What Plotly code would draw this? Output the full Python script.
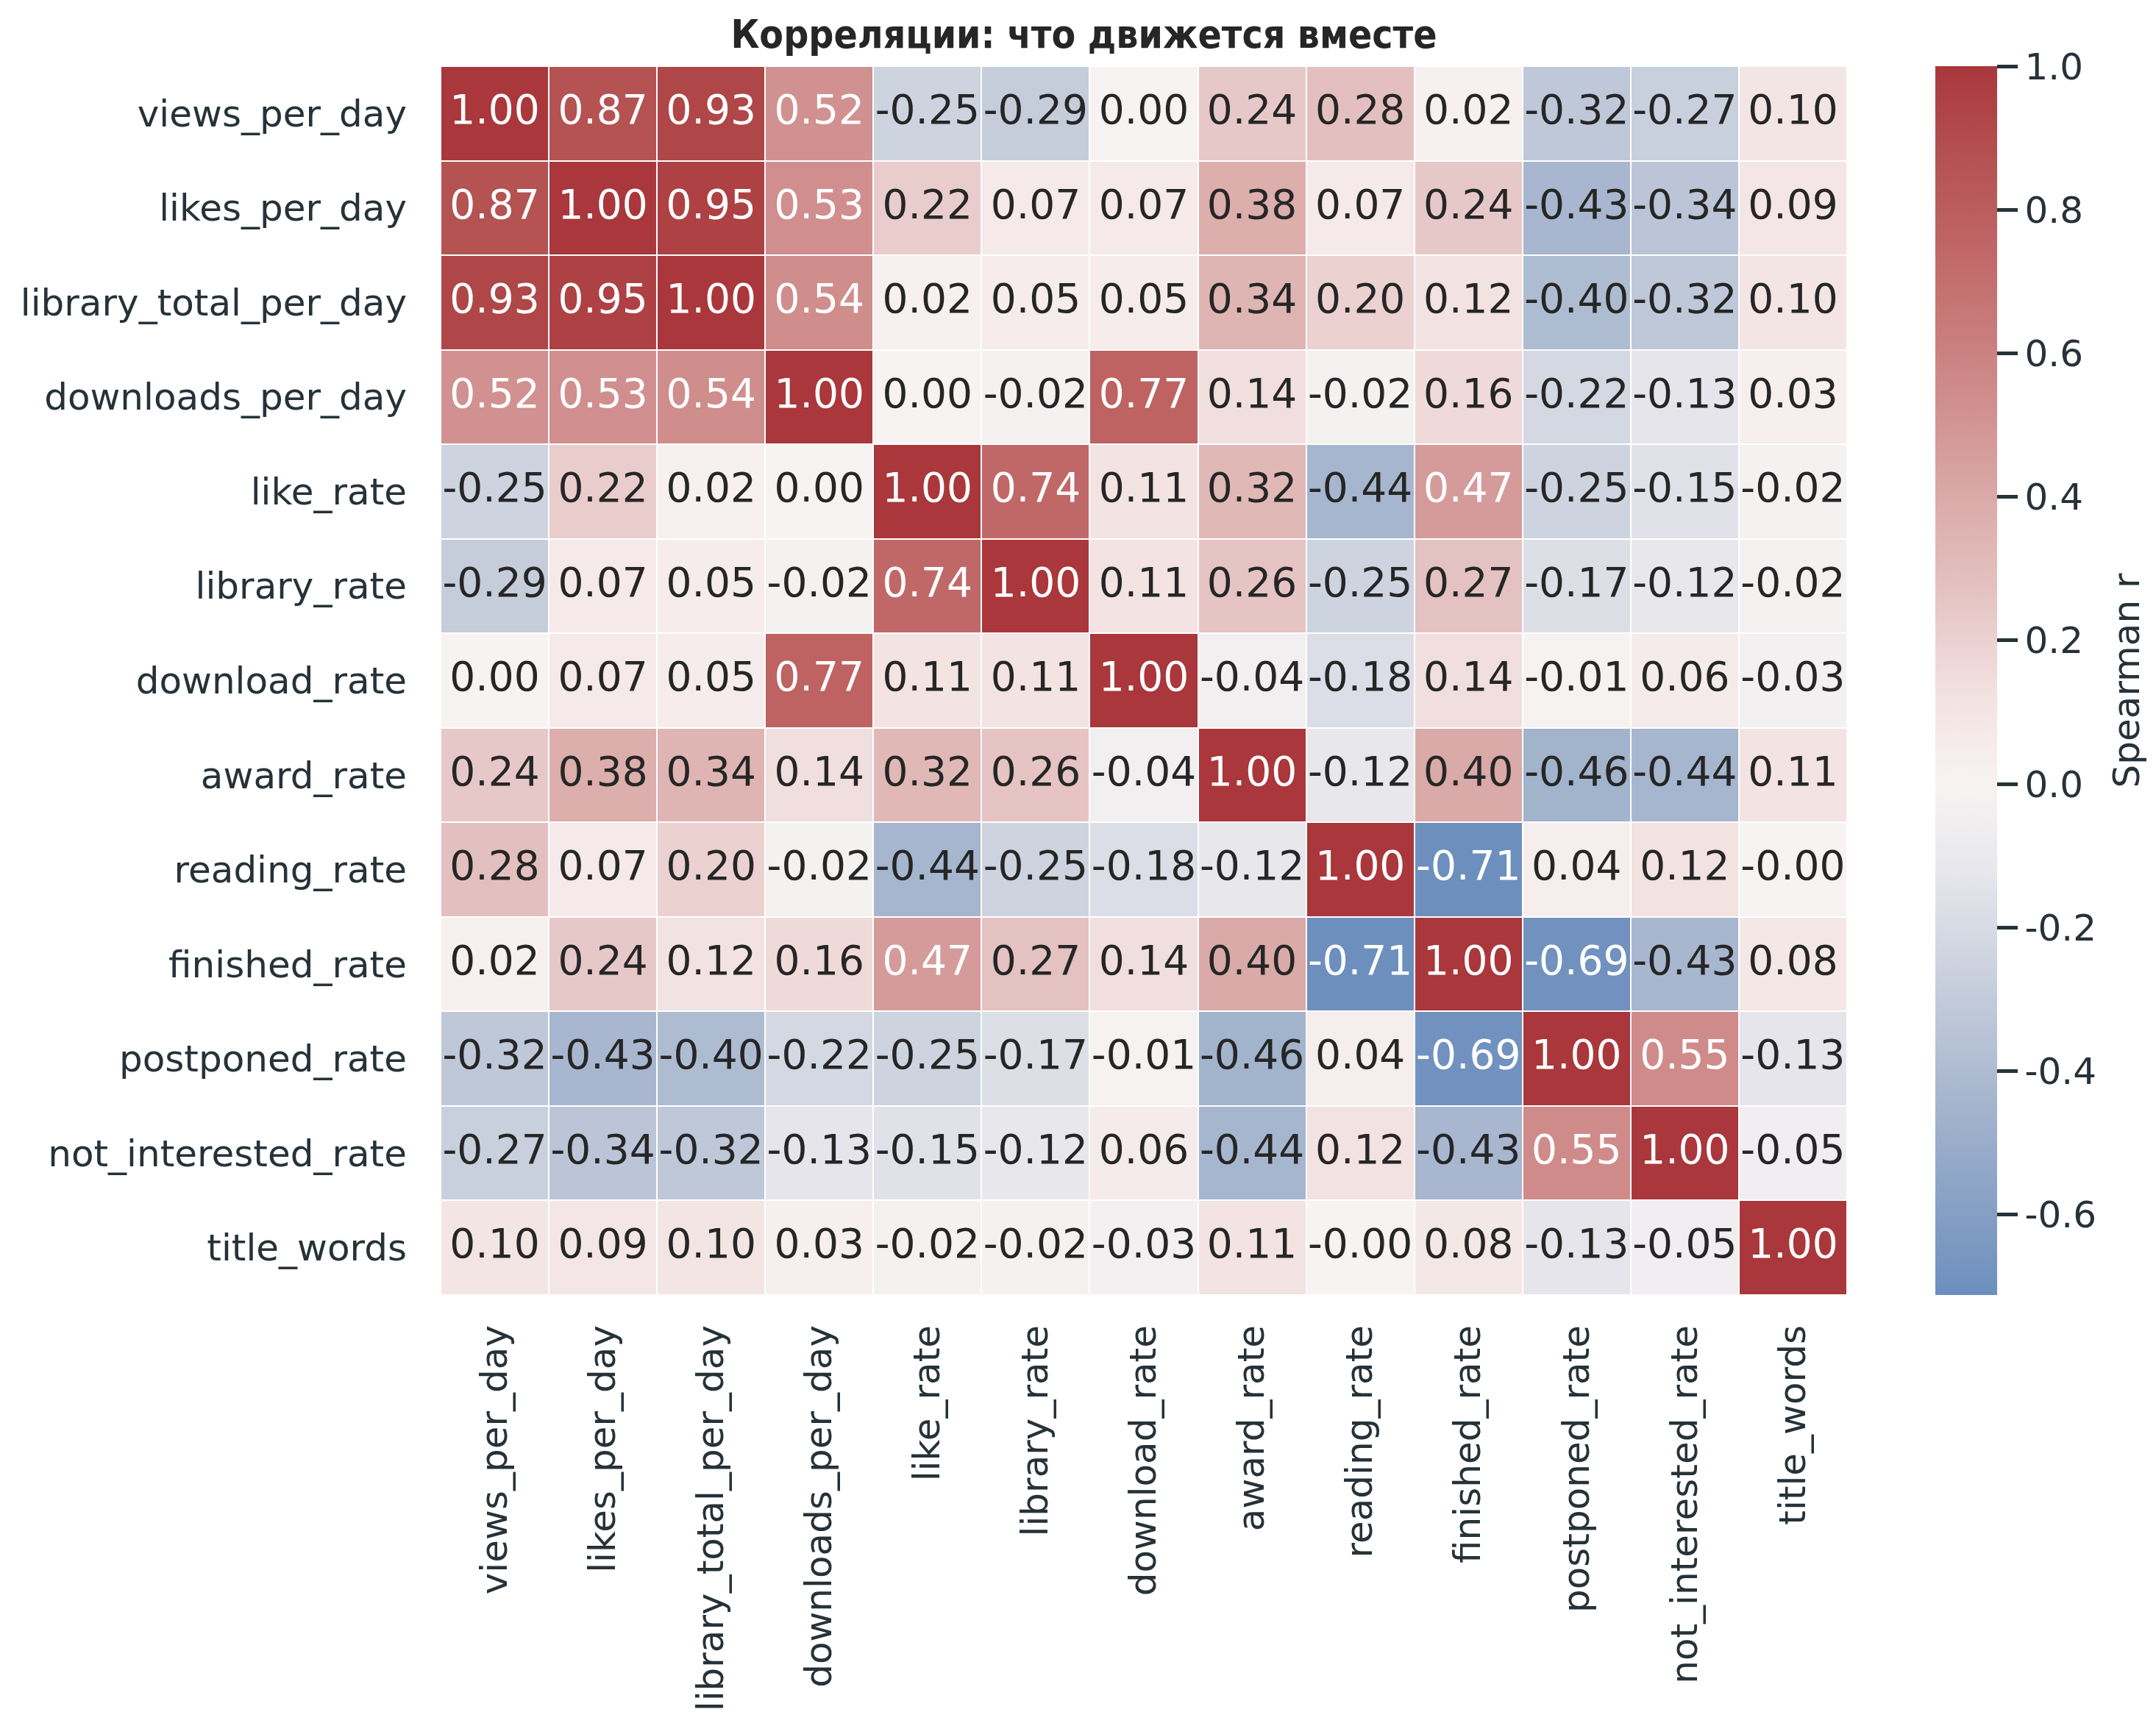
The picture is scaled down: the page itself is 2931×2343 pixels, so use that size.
import plotly.graph_objects as go

# ---------------- data ----------------
labels = ["views_per_day", "likes_per_day", "library_total_per_day", "downloads_per_day",
          "like_rate", "library_rate", "download_rate", "award_rate", "reading_rate",
          "finished_rate", "postponed_rate", "not_interested_rate", "title_words"]

row_views_per_day         = [1.00, 0.87, 0.93, 0.52, -0.25, -0.29, 0.00, 0.24, 0.28, 0.02, -0.32, -0.27, 0.10]
row_likes_per_day         = [0.87, 1.00, 0.95, 0.53, 0.22, 0.07, 0.07, 0.38, 0.07, 0.24, -0.43, -0.34, 0.09]
row_library_total_per_day = [0.93, 0.95, 1.00, 0.54, 0.02, 0.05, 0.05, 0.34, 0.20, 0.12, -0.40, -0.32, 0.10]
row_downloads_per_day     = [0.52, 0.53, 0.54, 1.00, 0.00, -0.02, 0.77, 0.14, -0.02, 0.16, -0.22, -0.13, 0.03]
row_like_rate             = [-0.25, 0.22, 0.02, 0.00, 1.00, 0.74, 0.11, 0.32, -0.44, 0.47, -0.25, -0.15, -0.02]
row_library_rate          = [-0.29, 0.07, 0.05, -0.02, 0.74, 1.00, 0.11, 0.26, -0.25, 0.27, -0.17, -0.12, -0.02]
row_download_rate         = [0.00, 0.07, 0.05, 0.77, 0.11, 0.11, 1.00, -0.04, -0.18, 0.14, -0.01, 0.06, -0.03]
row_award_rate            = [0.24, 0.38, 0.34, 0.14, 0.32, 0.26, -0.04, 1.00, -0.12, 0.40, -0.46, -0.44, 0.11]
row_reading_rate          = [0.28, 0.07, 0.20, -0.02, -0.44, -0.25, -0.18, -0.12, 1.00, -0.71, 0.04, 0.12, -0.004]
row_finished_rate         = [0.02, 0.24, 0.12, 0.16, 0.47, 0.27, 0.14, 0.40, -0.71, 1.00, -0.69, -0.43, 0.08]
row_postponed_rate        = [-0.32, -0.43, -0.40, -0.22, -0.25, -0.17, -0.01, -0.46, 0.04, -0.69, 1.00, 0.55, -0.13]
row_not_interested_rate   = [-0.27, -0.34, -0.32, -0.13, -0.15, -0.12, 0.06, -0.44, 0.12, -0.43, 0.55, 1.00, -0.05]
row_title_words           = [0.10, 0.09, 0.10, 0.03, -0.02, -0.02, -0.03, 0.11, -0.004, 0.08, -0.13, -0.05, 1.00]

z = [row_views_per_day, row_likes_per_day, row_library_total_per_day, row_downloads_per_day,
     row_like_rate, row_library_rate, row_download_rate, row_award_rate, row_reading_rate,
     row_finished_rate, row_postponed_rate, row_not_interested_rate, row_title_words]

cbar_ticks = [-0.6, -0.4, -0.2, 0.0, 0.2, 0.4, 0.6, 0.8, 1.0]
cbar_ticktext = ["-0.6", "-0.4", "-0.2", "0.0", "0.2", "0.4", "0.6", "0.8", "1.0"]

title_text = "Корреляции: что движется вместе"
cbar_title = "Spearman r"

# ---------------- style: vlag-like diverging map centred at 0 (value space) ----------------
VLAG = [(-1.00, "#2369bd"), (-0.71, "#6d8fbe"), (-0.45, "#a4b4cd"), (-0.25, "#cdd3df"),
        (-0.12, "#e7e7ec"), (0.00, "#f7f3f2"), (0.12, "#f3e2e2"), (0.27, "#e4c2c1"),
        (0.40, "#daaaa8"), (0.53, "#d08f8e"), (0.77, "#be6262"), (0.87, "#b55252"),
        (1.00, "#a9373b")]


def hex2rgb(h):
    h = h.lstrip("#")
    return tuple(int(h[i:i + 2], 16) for i in (0, 2, 4))


def interp(v):
    for (v0, c0), (v1, c1) in zip(VLAG[:-1], VLAG[1:]):
        if v0 <= v <= v1:
            t = (v - v0) / (v1 - v0) if v1 > v0 else 0
            a, b = hex2rgb(c0), hex2rgb(c1)
            return "rgb(%d,%d,%d)" % tuple(round(a[i] + t * (b[i] - a[i])) for i in range(3))
    return VLAG[-1][1]


flat = [v for r in z for v in r]
zmax = max(flat)
zmin = -0.712
colorscale = [[0.0, interp(zmin)]]
for v, c in VLAG:
    if zmin < v <= zmax:
        colorscale.append([(v - zmin) / (zmax - zmin), c])

FONT = "DejaVu Sans"
TICKC = "#263238"
TXT = "#262626"

fig = go.Figure()
fig.add_trace(go.Heatmap(
    z=z, x=labels, y=labels, zmin=zmin, zmax=zmax, colorscale=colorscale,
    xgap=2, ygap=2, hoverinfo="skip",
    colorbar=dict(
        x=1.0628, xanchor="left", xref="paper", y=0.5, yanchor="middle",
        len=1.0, lenmode="fraction", thickness=84, thicknessmode="pixels",
        xpad=0, ypad=0, outlinewidth=0,
        tickmode="array", tickvals=cbar_ticks, ticktext=cbar_ticktext,
        ticks="outside", ticklen=28, tickwidth=5, tickcolor=TICKC,
        tickfont=dict(family=FONT, size=50, color=TICKC),
    ),
))

# annotation text, colour chosen by cell darkness
dx, dy, dt, lx, ly, lt = [], [], [], [], [], []
for i, r in enumerate(z):
    for j, v in enumerate(r):
        s = f"{v:.2f}"
        if v >= 0.45 or v <= -0.6:
            lx.append(labels[j]); ly.append(labels[i]); lt.append(s)
        else:
            dx.append(labels[j]); dy.append(labels[i]); dt.append(s)

fig.add_trace(go.Scatter(x=dx, y=dy, text=dt, mode="text", hoverinfo="skip", showlegend=False,
                         textfont=dict(family=FONT, size=55, color=TXT)))
fig.add_trace(go.Scatter(x=lx, y=ly, text=lt, mode="text", hoverinfo="skip", showlegend=False,
                         textfont=dict(family=FONT, size=55, color="white")))

fig.add_annotation(text=cbar_title, textangle=-90, x=(2882 - 591) / 1912, xref="paper",
                   y=0.5, yref="paper", xanchor="center", yanchor="middle", showarrow=False,
                   font=dict(family=FONT, size=50, color=TICKC))

fig.update_layout(
    width=2931, height=2343,
    margin=dict(l=591, r=428, t=82, b=590),
    paper_bgcolor="white", plot_bgcolor="white",
    font=dict(family=FONT, color=TICKC),
    showlegend=False,
    title=dict(text=f"<b>{title_text}</b>", x=0.5, xref="container", xanchor="center",
               y=1 - 38 / 2343, yref="container", yanchor="middle",
               font=dict(family="DejaVu Sans Condensed, DejaVu Sans", size=53, color=TXT)),
    xaxis=dict(type="category", tickangle=-90, showgrid=False, zeroline=False, showline=False,
               ticks="", ticklabelstandoff=30, tickfont=dict(family=FONT, size=50, color=TICKC),
               range=[-0.5, len(labels) - 0.5]),
    yaxis=dict(type="category", autorange=False, range=[len(labels) - 0.5, -0.5],
               showgrid=False, zeroline=False, showline=False,
               ticks="", ticklabelstandoff=45, tickfont=dict(family=FONT, size=50, color=TICKC)),
)

fig.write_html("out.html")
